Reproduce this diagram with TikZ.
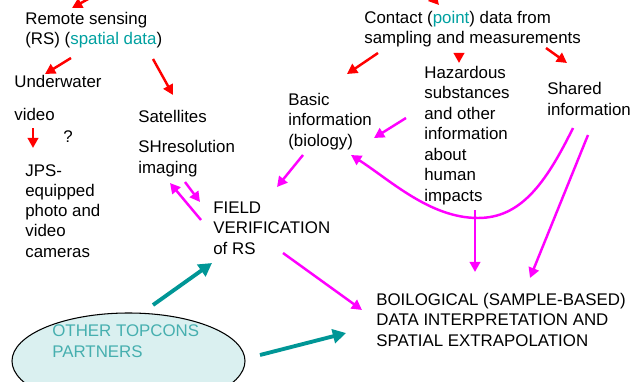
\documentclass[tikz,border=0pt]{standalone}
\usepackage{fontspec}
\setmainfont{Liberation Sans}
\usetikzlibrary{arrows.meta}
\definecolor{arrteal}{RGB}{0,150,150}
\definecolor{arrpink}{RGB}{255,0,255}
\definecolor{arrred}{RGB}{255,0,0}
\definecolor{txtteal}{RGB}{0,160,160}
\definecolor{partnerteal}{RGB}{70,175,175}
\definecolor{ovalfill}{RGB}{218,240,240}

\begin{document}
\begin{tikzpicture}[x=0.02cm, y=-0.02cm,
  lbl/.style={anchor=base west, align=left, inner sep=0pt, font=\fontsize{9.6}{11.5}\selectfont},
  redarr/.style={arrred, line width=1.4pt, -{Triangle[length=5.8pt,width=6pt]}},
  pinkarr/.style={arrpink, line width=1.4pt, -{Triangle[length=5.8pt,width=6pt]}},
  tealarr/.style={arrteal, line width=2.2pt, -{Triangle[length=7.5pt,width=8pt]}}]
\useasboundingbox (0,0) rectangle (633,382);
\clip (0,0) rectangle (633,382);

% left branch: remote sensing (nodes sit on the baseline of their last line)
\node [lbl] (rs) at (25,45) {Remote sensing\\(RS) (\textcolor{txtteal}{spatial data})};
\node [lbl] (uw) at (14,88) {Underwater};
\node [lbl] (vid) at (14,120) {video};
\node [lbl] (qm) at (63,142) {?};
\node [lbl] (jps) at (25,257) {JPS-\\equipped\\photo and\\video\\cameras};
\node [lbl] (sat) at (138,122) {Satellites};
\node [lbl] (shres) at (138,173) {SHresolution\\imaging};
\node [lbl] (field) at (213,254) {FIELD\\VERIFICATION\\of RS};

% right branch: contact data
\node [lbl] (contact) at (364,44) {Contact (\textcolor{txtteal}{point}) data from\\sampling and measurements};
\node [lbl] (basic) at (288,146) {Basic\\information\\(biology)};
\node [lbl, font=\fontsize{9.6}{11.65}\selectfont] (haz) at (424,201) {Hazardous\\substances\\and other\\information\\about\\human\\impacts};
\node [lbl] (shared) at (547,115) {Shared\\information};
\node [lbl] (bio) at (376,346) {BOILOGICAL (SAMPLE-BASED)\\DATA INTERPRETATION AND\\SPATIAL EXTRAPOLATION};

% partners
\draw [fill=ovalfill, line width=0.6pt] (128.5,361) ellipse (116.5 and 48);
\node [lbl, text=partnerteal] (partners) at (52,357) {OTHER TOPCONS\\PARTNERS};

% arrow ends
\coordinate (top-a) at (90,-2);
\coordinate (top-b) at (72,8);
\coordinate (top-c) at (432,-3);
\coordinate (top-d) at (439,5);
\coordinate (rs-s1) at (71,58);
\coordinate (uw-n) at (45,74);
\coordinate (rs-s2) at (153,59);
\coordinate (sat-n) at (173,95);
\coordinate (vid-s) at (33,128);
\coordinate (jps-n) at (33,148);
\coordinate (contact-s1) at (378,53);
\coordinate (basic-n) at (347,74);
\coordinate (contact-s2) at (459,53);
\coordinate (haz-n) at (459,63);
\coordinate (contact-s3) at (546,48);
\coordinate (shared-n) at (567,63);
\coordinate (haz-w) at (406,118);
\coordinate (basic-e) at (374,138);
\coordinate (basic-s) at (303,155);
\coordinate (field-ne) at (277,187);
\coordinate (field-nw1) at (201,220);
\coordinate (shres-s1) at (170,183);
\coordinate (shres-s2) at (185,182);
\coordinate (field-nw2) at (200,202);
\coordinate (field-se) at (283,253);
\coordinate (bio-nw) at (362,310);
\coordinate (shared-s1) at (573,128);
\coordinate (curve-low) at (478,218);
\coordinate (basic-se) at (351,155);
\coordinate (haz-s) at (475,210);
\coordinate (bio-n1) at (475,272);
\coordinate (shared-s2) at (588,135);
\coordinate (bio-n2) at (530,278);
\coordinate (partners-n) at (153,305);
\coordinate (field-sw) at (212,263);
\coordinate (partners-e) at (260,355);
\coordinate (bio-w) at (346,333);

% red arrows
\draw [redarr] (top-a) -- (top-b);
\draw [redarr] (top-c) -- (top-d);
\draw [redarr] (rs-s1) -- (uw-n);
\draw [redarr] (rs-s2) -- (sat-n);
\draw [redarr] (vid-s) -- (jps-n);
\draw [redarr] (contact-s1) -- (basic-n);
\draw [redarr] (contact-s2) -- (haz-n);
\draw [redarr] (contact-s3) -- (shared-n);

% magenta arrows
\draw [pinkarr] (haz-w) -- (basic-e);
\draw [pinkarr] (basic-s) -- (field-ne);
\draw [pinkarr] (field-nw1) -- (shres-s1);
\draw [pinkarr] (shres-s2) -- (field-nw2);
\draw [pinkarr] (field-se) -- (bio-nw);
\draw [pinkarr] (shared-s1) .. controls (545,185) and (520,218) .. (curve-low)
  .. controls (430,218) and (390,180) .. (basic-se);
\draw [pinkarr] (haz-s) -- (bio-n1);
\draw [pinkarr] (shared-s2) -- (bio-n2);

% teal arrows
\draw [tealarr] (partners-n) -- (field-sw);
\draw [tealarr] (partners-e) -- (bio-w);
\end{tikzpicture}
\end{document}
